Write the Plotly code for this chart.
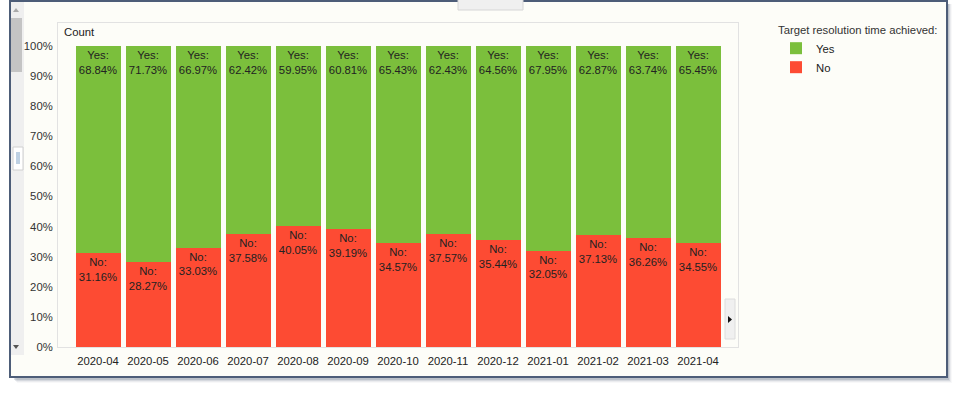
import plotly.graph_objects as go

months = ["2020-04", "2020-05", "2020-06", "2020-07", "2020-08", "2020-09", "2020-10",
          "2020-11", "2020-12", "2021-01", "2021-02", "2021-03", "2021-04"]
yes_pct = [68.84, 71.73, 66.97, 62.42, 59.95, 60.81, 65.43, 62.43, 64.56, 67.95, 62.87, 63.74, 65.45]
no_pct = [31.16, 28.27, 33.03, 37.58, 40.05, 39.19, 34.57, 37.57, 35.44, 32.05, 37.13, 36.26, 34.55]
y_ticks = [0, 10, 20, 30, 40, 50, 60, 70, 80, 90, 100]
y_tick_labels = [f"{v}%" for v in y_ticks]

GREEN = "#7bbf3c"
RED = "#fd4b33"
BG = "#fdfdf8"
FONT = "Liberation Sans, Arial, sans-serif"
FS = 11.3

W, H = 956, 396
L, R, T, B = 58, 218, 23, 49
PW, PH = W - L - R, H - T - B


def px(x):
    return (x - L) / PW


def py(y):
    return (H - B - y) / PH


fig = go.Figure()
fig.add_trace(go.Bar(
    name="No", x=months, y=no_pct, marker=dict(color=RED, line=dict(width=0)),
    text=[f"No:<br>{v:.2f}%" for v in no_pct], textposition="inside", textangle=0,
    insidetextanchor="end", textfont=dict(size=FS, color="#222222", family=FONT),
    hovertemplate="%{x}<br>No: %{y:.2f}%<extra></extra>",
))
fig.add_trace(go.Bar(
    name="Yes", x=months, y=yes_pct, marker=dict(color=GREEN, line=dict(width=0)),
    text=[f"Yes:<br>{v:.2f}%" for v in yes_pct], textposition="inside", textangle=0,
    insidetextanchor="end", textfont=dict(size=FS, color="#222222", family=FONT),
    hovertemplate="%{x}<br>Yes: %{y:.2f}%<extra></extra>",
))

shapes = []
# window shadow
for i, op in enumerate([0.18, 0.12, 0.07, 0.04]):
    shapes.append(dict(type="rect", xref="paper", yref="paper",
                       x0=px(14 + i), x1=px(949 + i), y0=py(4), y1=py(380 + i),
                       fillcolor="#45566f", opacity=op, line=dict(width=0), layer="below"))
# window frame
shapes.append(dict(type="rect", xref="paper", yref="paper",
                   x0=px(9), x1=px(948), y0=py(-2), y1=py(378),
                   fillcolor="#4d5d78", line=dict(width=0), layer="below"))
shapes.append(dict(type="rect", xref="paper", yref="paper",
                   x0=px(11), x1=px(946), y0=py(2), y1=py(376),
                   fillcolor=BG, line=dict(width=0), layer="below"))
# left scrollbar
shapes.append(dict(type="rect", xref="paper", yref="paper",
                   x0=px(11), x1=px(24), y0=py(2), y1=py(355),
                   fillcolor="#efefef", line=dict(width=0), layer="below"))
shapes.append(dict(type="rect", xref="paper", yref="paper",
                   x0=px(11), x1=px(22), y0=py(18), y1=py(72),
                   fillcolor="#c4c4c4", line=dict(width=0), layer="below"))
shapes.append(dict(type="path", xref="paper", yref="paper",
                   path=f"M {px(13)},{py(12)} L {px(19)},{py(12)} L {px(16)},{py(8)} Z",
                   fillcolor="#aaaaaa", line=dict(width=0), layer="below"))
shapes.append(dict(type="path", xref="paper", yref="paper",
                   path=f"M {px(13)},{py(345)} L {px(19)},{py(345)} L {px(16)},{py(349)} Z",
                   fillcolor="#555555", line=dict(width=0), layer="below"))
# splitter handle
shapes.append(dict(type="rect", xref="paper", yref="paper",
                   x0=px(13), x1=px(23), y0=py(147), y1=py(170),
                   fillcolor="#ffffff", line=dict(width=1, color="#d0d0d0"), layer="below"))
for xx in (17, 19):
    shapes.append(dict(type="line", xref="paper", yref="paper",
                       x0=px(xx), x1=px(xx), y0=py(152), y1=py(164),
                       line=dict(width=1, color="#7fa3c8"), layer="below"))
# "More" tab
shapes.append(dict(type="rect", xref="paper", yref="paper",
                   x0=px(458), x1=px(523), y0=py(-2), y1=py(10),
                   fillcolor="#f0f0f0", line=dict(width=1, color="#d6d6d6"), layer="below"))
# right scroll button
shapes.append(dict(type="rect", xref="paper", yref="paper",
                   x0=px(725), x1=px(735), y0=py(299), y1=py(339),
                   fillcolor="#f0f0f0", line=dict(width=1, color="#dcdcdc"), layer="above"))
shapes.append(dict(type="path", xref="paper", yref="paper",
                   path=f"M {px(728)},{py(316)} L {px(728)},{py(323)} L {px(732)},{py(319.5)} Z",
                   fillcolor="#111111", line=dict(width=0), layer="above"))

fig.update_layout(
    width=W, height=H,
    margin=dict(l=L, r=R, t=T, b=B, pad=0),
    barmode="stack", bargap=0.1,
    paper_bgcolor="#ffffff", plot_bgcolor=BG,
    font=dict(family=FONT, size=FS, color="#333333"),
    uniformtext=dict(minsize=FS, mode="show"),
    xaxis=dict(type="category", range=[-0.8, 12.8], showgrid=False, zeroline=False, ticks="",
               showline=True, linecolor="#e2e2e2", linewidth=1, mirror=True,
               ticklabelstandoff=3,
               tickfont=dict(size=FS, color="#222222"), fixedrange=True),
    yaxis=dict(range=[0, 107.64], tickmode="array", tickvals=y_ticks, ticktext=y_tick_labels,
               showgrid=False, zeroline=False, ticks="", showline=True, linecolor="#e2e2e2",
               linewidth=1, mirror=True, ticklabelstandoff=2,
               tickfont=dict(size=FS, color="#333333"), fixedrange=True),
    legend=dict(title=dict(text="Target resolution time achieved:", font=dict(size=FS, color="#333333")),
                traceorder="reversed", x=px(776), xanchor="left", y=py(19), yanchor="top",
                bgcolor="rgba(0,0,0,0)", font=dict(size=FS, color="#222222"),
                itemclick=False, itemdoubleclick=False, tracegroupgap=0),
    annotations=[dict(text="Count", xref="paper", yref="paper", x=px(62), y=py(24),
                      xanchor="left", yanchor="top", showarrow=False,
                      font=dict(size=FS, color="#222222"))],
    shapes=shapes,
)

fig.write_html("out.html", config={"displayModeBar": False},
               post_script="document.body.style.margin='0';")
